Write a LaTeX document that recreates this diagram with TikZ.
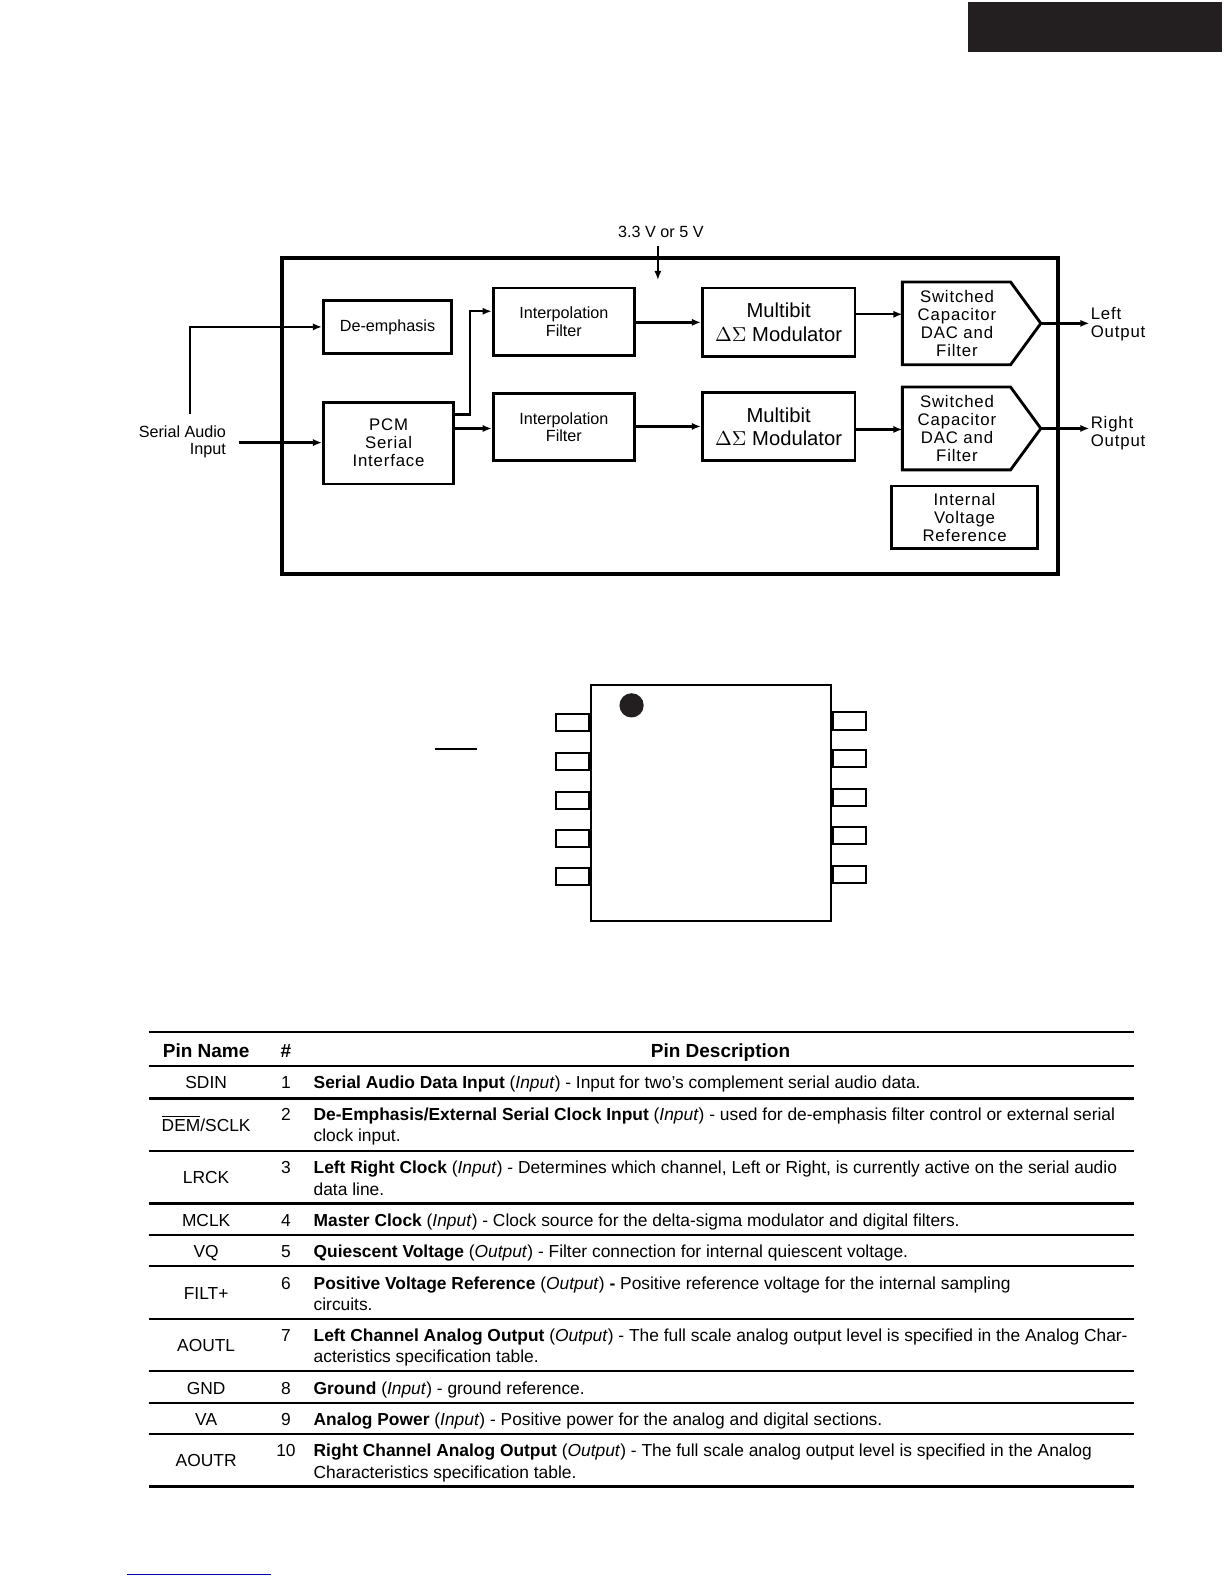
\documentclass[tikz,border=0pt]{standalone}
\usepackage{fontspec}
\setmainfont{Liberation Sans}
\newfontfamily\spacedfont[LetterSpace=5]{Liberation Sans}
\usetikzlibrary{arrows.meta}
\definecolor{darkblk}{HTML}{231F20}
\begin{document}
\begin{tikzpicture}[x=0.5pt,y=-0.5pt,
  blk/.style={draw, line width=1.4pt, align=center, inner sep=0pt},
  sm/.style={font=\fontsize{8}{8.6}\selectfont},
  sp/.style={font=\fontsize{8.3}{8.9}\selectfont\spacedfont},
  big/.style={font=\fontsize{10}{11.5}\selectfont},
  arr/.style={line width=1.2pt, -{Latex[length=4.5pt,width=3.6pt]}},
  pin/.style={draw, line width=1pt, minimum width=16.5pt, minimum height=8.5pt, inner sep=0pt},
  rule/.style={line width=1.1pt},
  cell/.style={font=\fontsize{8.6}{10}\selectfont, inner sep=0pt, text height=1.5ex, text depth=0.25ex},
  desc/.style={cell, anchor=west},
  hdr/.style={font=\fontsize{9.4}{11}\selectfont\bfseries, inner sep=0pt, text height=1.5ex, text depth=0.25ex}
]
\useasboundingbox (0,0) rectangle (1211.3,1567.5);
\fill[white] (0,0) rectangle (1211.3,1567.5);

% header tab
\fill[darkblk] (958,2) rectangle (1209.5,51);

% ---------- block diagram ----------
\draw[line width=2pt] (279,255) rectangle (1047,568);
\node[sm, inner sep=0pt] (pwr) at (654,230) {3.3 V or 5 V};
\coordinate (pwtop) at (651,243);
\coordinate (pwbot) at (651,277);
\draw[arr] (pwtop) -- (pwbot);

\node[blk, sm, minimum width=63.5pt, minimum height=26.5pt] (de) at (383.5,323.5) {De-emphasis};
\node[blk, sp, minimum width=64.5pt, minimum height=40.5pt] (pcm) at (384.5,438.5) {PCM\\Serial\\Interface};
\node[blk, sm, minimum width=70pt, minimum height=33.5pt] (if1) at (558,318.5) {Interpolation\\Filter};
\node[blk, sm, minimum width=70pt, minimum height=33.5pt] (if2) at (558,422.5) {Interpolation\\Filter};
\node[blk, big, minimum width=75.5pt, minimum height=34pt] (mb1) at (770.5,319) {Multibit\\$\Delta\Sigma$ Modulator};
\node[blk, big, minimum width=75.5pt, minimum height=34pt] (mb2) at (770.5,422) {Multibit\\$\Delta\Sigma$ Modulator};

% switched capacitor blocks (pentagons)
\node[sp, align=center, inner sep=0pt] (sc1) at (947,320) {Switched\\Capacitor\\DAC and\\Filter};
\node[sp, align=center, inner sep=0pt] (sc2) at (947,424) {Switched\\Capacitor\\DAC and\\Filter};
\coordinate (sc1in) at (893,311);
\coordinate (sc1tip) at (1030,320);
\coordinate (sc2in) at (893,425);
\coordinate (sc2tip) at (1030,424);
\draw[line width=1.4pt, line join=miter] (893,279) -- (1000,279) -- (sc1tip) -- (1000,361) -- (893,361) -- cycle;
\draw[line width=1.4pt, line join=miter] (893,383) -- (1000,383) -- (sc2tip) -- (1000,465) -- (893,465) -- cycle;

\node[blk, sp, minimum width=72.5pt, minimum height=31pt] (ivr) at (954.5,512) {Internal\\Voltage\\Reference};

% labels
\node[sm, align=right, anchor=east, inner sep=0pt] (sai) at (224,437) {Serial Audio\\Input};
\node[sp, align=left, anchor=west, inner sep=0pt] (lo) at (1079,321) {Left\\Output};
\node[sp, align=left, anchor=west, inner sep=0pt] (ro) at (1079,429) {Right\\Output};

% connectors
\coordinate (sin) at (237,438);
\draw[arr] (sin) -- (pcm.west |- sin);
\coordinate (dbot) at (188,410);
\draw[arr] (dbot) |- (de.west);
\draw[arr] (pcm.east |- 0,410) -- (465,410) |- (if1.west |- 0,308);
\draw[arr] (pcm.east |- 0,424) -- (if2.west |- 0,424);
\draw[arr] (if1.east |- 0,319) -- (mb1.west |- 0,319);
\draw[arr] (if2.east |- 0,422) -- (mb2.west |- 0,422);
\draw[arr] (mb1.east |- sc1in) -- (sc1in);
\draw[arr] (mb2.east |- sc2in) -- (sc2in);
\coordinate (loend) at (1078,320);
\coordinate (roend) at (1078,424);
\draw[arr] (sc1tip) -- (loend);
\draw[arr] (sc2tip) -- (roend);

% ---------- package drawing ----------
\node[draw, line width=1pt, minimum width=118.5pt, minimum height=116.5pt, inner sep=0pt] (chip) at (703.5,794.5) {};
\fill[darkblk] (625,698) circle (12);
\foreach \i/\y in {1/715,2/753.5,3/792.5,4/829.5,5/867.5}{
  \node[pin, anchor=east] (lp\i) at (chip.west |- 0,\y) {};
}
\foreach \i/\y in {10/713.5,9/750.5,8/789.5,7/826.5,6/865.5}{
  \node[pin, anchor=west] (rp\i) at (chip.east |- 0,\y) {};
}
\draw[line width=1pt] (430,741) -- (472,741);

% ---------- pin table ----------
\foreach \y in {1021,1055,1087,1139,1191,1222,1253,1305,1357,1388,1419,1471}{
  \draw[rule] (147,\y) -- (1122,\y);
}
\node[hdr] (hname) at (204,1040) {Pin Name};
\node[hdr] (hnum) at (283,1040) {\#};
\node[hdr] (hdesc) at (713,1040) {Pin Description};

% row 1
\node[cell] (n1) at (204,1071) {SDIN};
\node[cell] (k1) at (283,1071) {1};
\node[desc] (d1) at (310,1071) {\textbf{Serial Audio Data Input} (\textit{Input}) - Input for two’s complement serial audio data.};
% row 2
\node[cell] (n2) at (204,1113) {$\overline{\mbox{DEM}}$/SCLK};
\node[cell] (k2) at (283,1102) {2};
\node[desc] (d2a) at (310,1102) {\textbf{De-Emphasis/External Serial Clock Input} (\textit{Input}) - used for de-emphasis filter control or external serial};
\node[desc] (d2b) at (310,1123) {clock input.};
% row 3
\node[cell] (n3) at (204,1165) {LRCK};
\node[cell] (k3) at (283,1155) {3};
\node[desc] (d3a) at (310,1155) {\textbf{Left Right Clock} (\textit{Input}) - Determines which channel, Left or Right, is currently active on the serial audio};
\node[desc] (d3b) at (310,1176) {data line.};
% row 4
\node[cell] (n4) at (204,1207) {MCLK};
\node[cell] (k4) at (283,1207) {4};
\node[desc] (d4) at (310,1207) {\textbf{Master Clock} (\textit{Input}) - Clock source for the delta-sigma modulator and digital filters.};
% row 5
\node[cell] (n5) at (204,1238) {VQ};
\node[cell] (k5) at (283,1238) {5};
\node[desc] (d5) at (310,1238) {\textbf{Quiescent Voltage} (\textit{Output}) - Filter connection for internal quiescent voltage.};
% row 6
\node[cell] (n6) at (204,1279) {FILT+};
\node[cell] (k6) at (283,1269) {6};
\node[desc] (d6a) at (310,1269) {\textbf{Positive Voltage Reference} (\textit{Output}) \textbf{-} Positive reference voltage for the internal sampling};
\node[desc] (d6b) at (310,1290) {circuits.};
% row 7
\node[cell] (n7) at (204,1331) {AOUTL};
\node[cell] (k7) at (283,1321) {7};
\node[desc] (d7a) at (310,1321) {\textbf{Left Channel Analog Output} (\textit{Output}) - The full scale analog output level is specified in the Analog Char-};
\node[desc] (d7b) at (310,1342) {acteristics specification table.};
% row 8
\node[cell] (n8) at (204,1373) {GND};
\node[cell] (k8) at (283,1373) {8};
\node[desc] (d8) at (310,1373) {\textbf{Ground} (\textit{Input}) - ground reference.};
% row 9
\node[cell] (n9) at (204,1404) {VA};
\node[cell] (k9) at (283,1404) {9};
\node[desc] (d9) at (310,1404) {\textbf{Analog Power} (\textit{Input}) - Positive power for the analog and digital sections.};
% row 10
\node[cell] (n10) at (204,1445) {AOUTR};
\node[cell] (k10) at (283,1435) {10};
\node[desc] (d10a) at (310,1435) {\textbf{Right Channel Analog Output} (\textit{Output}) - The full scale analog output level is specified in the Analog};
\node[desc] (d10b) at (310,1456) {Characteristics specification table.};

% footer link line
\draw[blue!70!black, line width=0.8pt] (126,1558) -- (268,1558);
\end{tikzpicture}
\end{document}
